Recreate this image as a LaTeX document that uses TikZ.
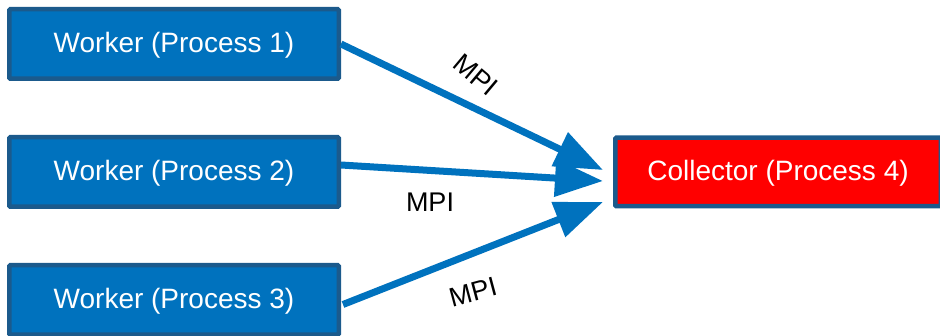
\documentclass[tikz,border=0pt]{standalone}
\usepackage{fontspec}
\setmainfont{Liberation Sans}
\usetikzlibrary{arrows.meta}
\definecolor{procblue}{RGB}{0,114,190}
\definecolor{procedge}{RGB}{27,90,140}
\definecolor{procred}{RGB}{255,0,0}
\begin{document}
\begin{tikzpicture}[x=1pt, y=1pt,
    worker/.style = {draw=procedge, line width=4.5pt, fill=procblue, text=white,
                     minimum width=329.5pt, minimum height=69.5pt, rounded corners=1pt,
                     text height=20pt, text depth=3pt,
                     font=\fontsize{28}{33}\selectfont},
    collector/.style = {worker, fill=procred, minimum width=325.5pt, minimum height=68.5pt},
    link/.style = {draw=procblue, line width=7pt, -{Triangle[length=48pt,width=36pt]}},
    mpi/.style = {font=\fontsize{27}{32}\selectfont, inner sep=0pt}]
    \useasboundingbox (0,0) rectangle (940,-336);

    \node[worker] (w1) at (174,-44) {Worker (Process 1)};
    \node[worker, node distance=128pt] (w2) [below of=w1] {Worker (Process 2)};
    \node[worker, node distance=128pt] (w3) [below of=w2] {Worker (Process 3)};
    \node[collector, node distance=604pt] (c) [right of=w2] {Collector (Process 4)};

    \draw[link] (w1.east) -- ([xshift=-10pt, yshift=2pt]c.west);
    \draw[link] ([yshift=7pt]w2.east) -- ([xshift=-10pt, yshift=-9pt]c.west);
    \draw[link] ([xshift=2pt, yshift=-4.5pt]w3.east) -- ([xshift=-10pt, yshift=-30pt]c.west);

    \node[mpi, rotate=-40] (m1) at (476,-75) {MPI};
    \node[mpi] (m2) at (430,-202) {MPI};
    \node[mpi, rotate=15] (m3) at (473,-292) {MPI};
\end{tikzpicture}
\end{document}
